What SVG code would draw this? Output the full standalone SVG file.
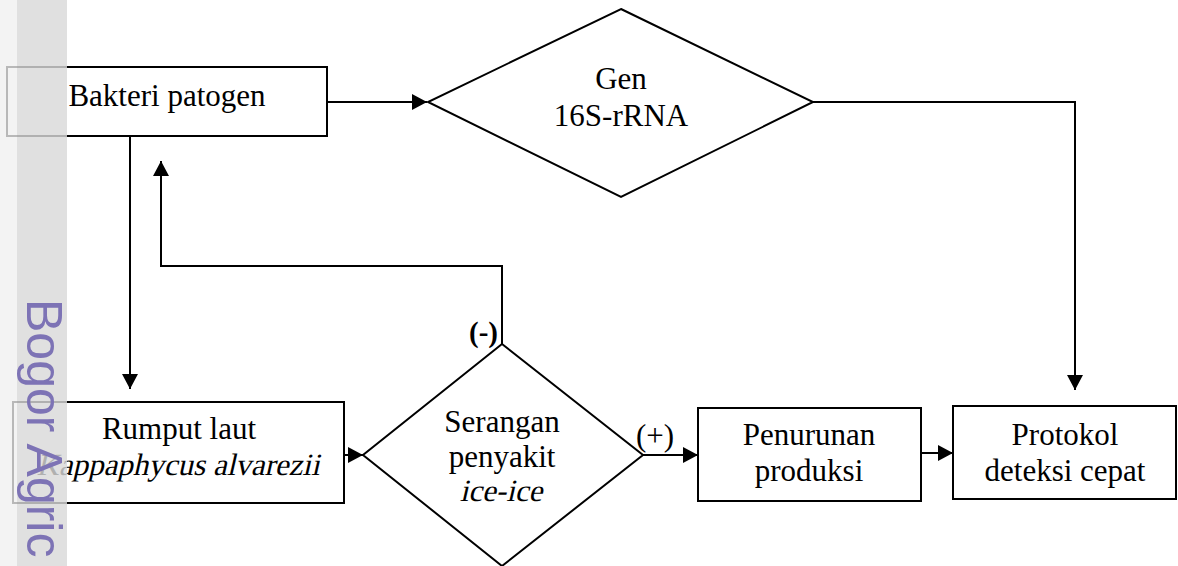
<svg xmlns="http://www.w3.org/2000/svg" width="1178" height="566" viewBox="0 0 1178 566">
  <defs>
    <marker id="arr" markerUnits="userSpaceOnUse" markerWidth="15" markerHeight="16" refX="15" refY="8" orient="auto">
      <path d="M0,0 L15,8 L0,16 z" fill="#000"/>
    </marker>
    <style>
      .box { fill: #fff; stroke: #000; stroke-width: 2; }
      .dia { fill: #fff; stroke: #000; stroke-width: 2; }
      .t { font-family: "Liberation Serif", "DejaVu Serif", serif; font-size: 31px; fill: #000; text-anchor: middle; }
      .conn { fill: none; stroke: #000; stroke-width: 2; marker-end: url(#arr); }
      .lbl { font-family: "Liberation Serif", "DejaVu Serif", serif; fill: #000; }
    </style>
  </defs>
  <rect width="1178" height="566" fill="#fff"/>

  <g id="connectors">
    <path class="conn" d="M327,102 H427"/>
    <path class="conn" d="M813,102 H1075 V390"/>
    <path class="conn" d="M130,136 V389"/>
    <path class="conn" d="M502,344 V266 H161 V161"/>
    <path class="conn" d="M344,455 H363"/>
    <path class="conn" d="M643,455 H698"/>
    <path class="conn" d="M921,453 H953"/>
    <text class="lbl" x="498" y="342" font-size="29" font-weight="bold" text-anchor="end">(-)</text>
    <text class="lbl" x="636" y="446" font-size="31">(+)</text>
  </g>

  <g id="bakteri">
    <rect class="box" x="7" y="67" width="320" height="69"/>
    <text class="t" x="167" y="106">Bakteri patogen</text>
  </g>

  <g id="gen">
    <polygon class="dia" points="621,9 813,102 621,197 428,102"/>
    <text class="t" x="621" y="89">Gen</text>
    <text class="t" x="621" y="126">16S-rRNA</text>
  </g>

  <g id="rumput">
    <rect class="box" x="13" y="402" width="331" height="101"/>
    <text class="t" x="179" y="439">Rumput laut</text>
    <g transform="translate(178,475) skewX(-13)">
      <text class="t" x="0" y="0" font-size="30">Kappaphycus alvarezii</text>
    </g>
  </g>

  <g id="serangan">
    <polygon class="dia" points="502,344 643,455 502,566 363,455"/>
    <text class="t" x="502" y="432">Serangan</text>
    <text class="t" x="502" y="467">penyakit</text>
    <g transform="translate(501,501) skewX(-13)">
      <text class="t" x="0" y="0">ice-ice</text>
    </g>
  </g>

  <g id="penurunan">
    <rect class="box" x="698" y="408" width="223" height="93"/>
    <text class="t" x="809" y="445">Penurunan</text>
    <text class="t" x="809" y="481">produksi</text>
  </g>

  <g id="protokol">
    <rect class="box" x="953" y="406" width="223" height="93"/>
    <text class="t" x="1065" y="445">Protokol</text>
    <text class="t" x="1065" y="481">deteksi cepat</text>
  </g>

  <g id="watermark">
    <rect x="0" y="0" width="17" height="566" fill="#efefef" opacity="0.77"/>
    <rect x="17" y="0" width="50" height="566" fill="#d9d9d9" opacity="0.81"/>
    <text transform="translate(27,299) rotate(90)" font-family="Liberation Sans, Arial, sans-serif" font-size="50" fill="#7d73b5">Bogor Agric</text>
  </g>
</svg>
